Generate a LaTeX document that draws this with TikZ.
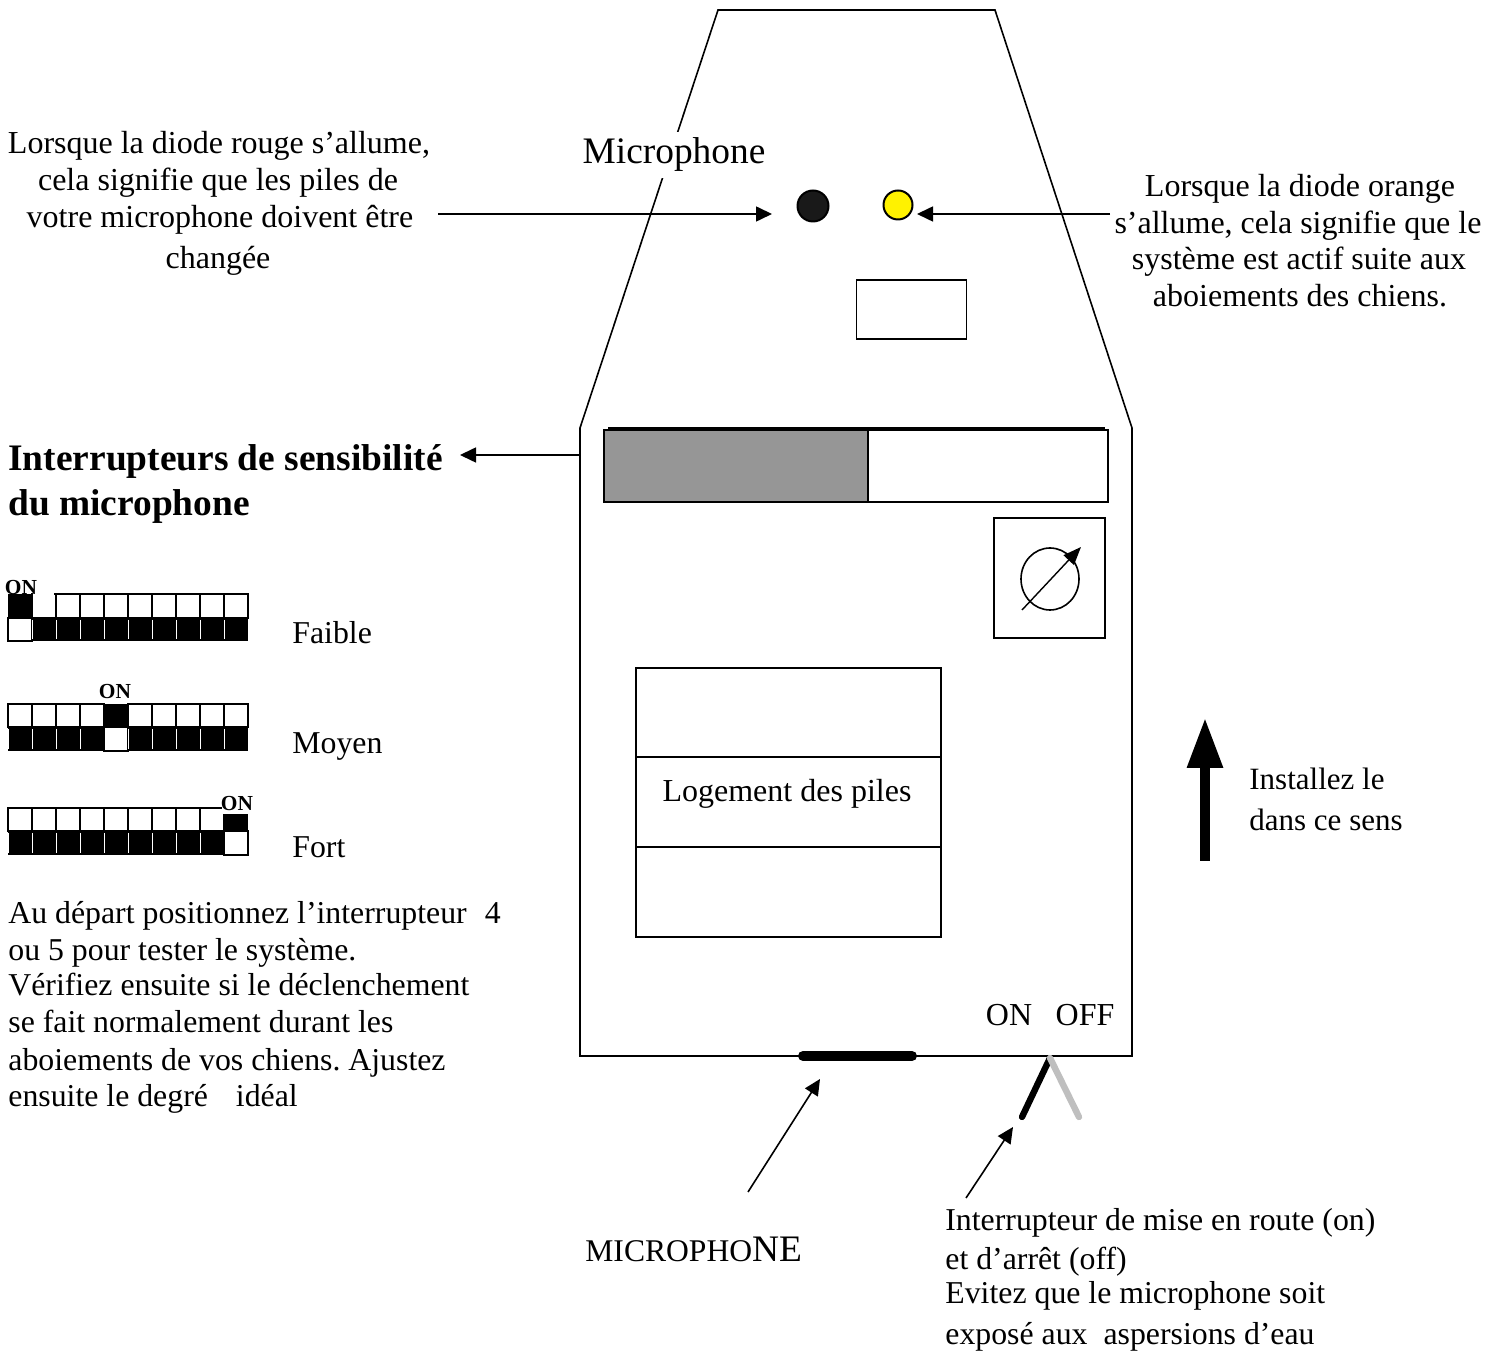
\documentclass[tikz,border=0pt]{standalone}
\usepackage{fontspec}
\setmainfont{Liberation Serif}
\usetikzlibrary{arrows.meta}
\frenchspacing
\tikzset{
  ln/.style={draw=black,line width=0.8pt},
  conn/.style={draw=black,line width=0.8pt,-{Triangle[length=8pt,width=7.5pt]}},
  tx/.style={inner sep=0pt,anchor=base west,font=\fontsize{15.9}{16}\selectfont},
  cx/.style={inner sep=0pt,anchor=base,font=\fontsize{16}{16}\selectfont},
  onl/.style={inner sep=0pt,anchor=base,font=\fontsize{10.7}{11}\bfseries\selectfont},
  hd/.style={inner sep=0pt,anchor=base west,font=\fontsize{18.7}{19}\bfseries\selectfont},
  cellw/.style={draw=black,line width=0.9pt,fill=white},
}
% #1 x origin, #2 top y, #3 mid y, #4 bottom y, #5 index of the ON switch
\newcommand{\dipbank}[5]{%
  \foreach \i in {0,...,9}{%
    \pgfmathsetmacro{\xa}{#1+\i*24}%
    \pgfmathsetmacro{\xb}{#1+\i*24+24}%
    \ifnum\i=#5\relax
      \fill[black] (\xa,#2) rectangle (\xb,#3);
      \draw[cellw] (\xa,#3) rectangle (\xb,#4);
    \else
      \draw[cellw] (\xa,#2) rectangle (\xb,#3);
      \fill[black] (\xa,#3) rectangle (\xb,#4);
      \draw[white,line width=0.3pt] (\xa,#3+2) -- (\xa,#4-2);
    \fi
  }%
}
\begin{document}
\begin{tikzpicture}[x=0.5pt,y=-0.5pt]
\useasboundingbox (0,0) rectangle (1501,1352);
\fill[white] (0,0) rectangle (1501,1352);

% body outline
\draw[ln,line join=miter] (718,10) -- (995,10) -- (1132,428) -- (1132,1056) -- (580,1056) -- (580,428) -- cycle;
\node[cx,fill=white,inner ysep=3pt,inner xsep=1pt,font=\fontsize{18.7}{19}\selectfont] (miclabel) at (674,164) {Microphone};

% LEDs
\node[circle,draw=black,fill=black!90,line width=1pt,minimum size=15.5pt,inner sep=0pt] (redled) at (813,206) {};
\node[circle,draw=black,fill=yellow,line width=1pt,minimum size=14.5pt,inner sep=0pt] (yelled) at (898,205) {};
\node[draw=black,line width=0.8pt,minimum width=55pt,minimum height=29.5pt,inner sep=0pt] (window) at (911.5,309.5) {};

% left led text
\node[cx] (l1) at (219,154) {Lorsque la diode rouge s’allume,};
\node[cx] (l2) at (218,191) {cela signifie que les piles de};
\node[cx] (l3) at (220,228) {votre microphone doivent être};
\node[cx] (l4) at (218,269) {changée};
\coordinate (la) at (438,214);
\draw[conn] (la) -- (772,214);

% right led text
\node[cx] (r1) at (1300,197) {Lorsque la diode orange};
\node[cx] (r2) at (1298,234) {s’allume, cela signifie que le};
\node[cx] (r3) at (1299,270) {système est actif suite aux};
\node[cx] (r4) at (1300,307) {aboiements des chiens.};
\coordinate (ra) at (1110,214);
\draw[conn] (ra) -- (917,214);

% sensitivity bar
\draw[ln] (608,428) -- (1105,428);
\draw[ln,fill=black!41] (604,430) rectangle (868,502);
\draw[ln,fill=white] (868,430) rectangle (1108,502);
\coordinate (ba) at (580,455);
\draw[conn] (ba) -- (460,455);
\node[hd] (h1) at (8,471) {Interrupteurs de sensibilité};
\node[hd] (h2) at (8,516) {du microphone};

% dial
\draw[ln] (994,518) rectangle (1105,638);
\draw[ln] (1050,579) ellipse [x radius=29,y radius=31];
\coordinate (da) at (1022,610);
\coordinate (db) at (1081,547);
\draw[draw=black,line width=0.7pt,-{Triangle[length=9pt,width=7pt]}] (da) -- (db);

% DIP switches
\dipbank{8}{594}{618}{641}{0}
\fill[white] (33,590) rectangle (54,616.5);
\node[onl] (on1) at (21,595) {ON};
\dipbank{8}{704}{727}{751}{4}
\node[onl] (on2) at (115,699) {ON};
\dipbank{8}{808}{831}{855}{9}
\fill[white] (222,805) rectangle (250,814.5);
\node[onl] (on3) at (237,811) {ON};
\node[tx] (f1) at (292,644) {Faible};
\node[tx] (f2) at (292,754) {Moyen};
\node[tx] (f3) at (292,858) {Fort};

% left paragraph
\node[tx] (p1) at (8,924) {Au départ positionnez l’interrupteur\hspace{9pt}4};
\node[tx] (p2) at (8,961) {ou 5 pour tester le système.};
\node[tx] (p3) at (8,996) {Vérifiez ensuite si le déclenchement};
\node[tx] (p4) at (8,1033) {se fait normalement durant les};
\node[tx] (p5) at (8,1070) {aboiements de vos chiens. Ajustez};
\node[tx] (p6) at (8,1106) {ensuite le degré\hspace{14pt}idéal};

% battery housing
\draw[ln] (636,668) rectangle (941,937);
\draw[ln] (636,757) -- (941,757);
\draw[ln] (636,847) -- (941,847);
\node[cx] (bat) at (787,802) {Logement des piles};

% big arrow
\coordinate (bga) at (1205,861);
\coordinate (bgb) at (1205,718);
\draw[draw=black,line width=4.6pt,-{Triangle[length=25pt,width=17pt]}] (bga) -- (bgb);
\node[tx,font=\fontsize{15.5}{16}\selectfont] (i1) at (1249,790) {Installez le};
\node[tx,font=\fontsize{15.5}{16}\selectfont] (i2) at (1249,831) {dans ce sens};

% on/off and bottom
\node[cx] (onl2) at (1009,1025) {ON};
\node[cx] (offl) at (1085,1025) {OFF};
\draw[black,line width=5pt,line cap=round] (803,1056) -- (912,1056);
\coordinate (pv) at (1050,1058);
\coordinate (sw1) at (1022,1117);
\coordinate (sw2) at (1079,1117);
\draw[black,line width=3.2pt,line cap=round] (pv) -- (sw1);
\draw[black!25,line width=3.2pt,line cap=round] (pv) -- (sw2);

\coordinate (ma) at (748,1192);
\draw[conn] (ma) -- (820,1079);
\coordinate (sa) at (966,1198);
\draw[conn] (sa) -- (1013,1127);

\node[tx] (mic) at (585,1261) {\fontsize{15.8}{16}\selectfont MICROPHO\fontsize{18.7}{19}\selectfont NE};
\node[tx] (n1) at (945,1230) {Interrupteur de mise en route (on)};
\node[tx] (n2) at (945,1269) {et d’arrêt (off)};
\node[tx] (n3) at (945,1303) {Evitez que le microphone soit};
\node[tx] (n4) at (945,1344) {exposé aux\hspace{8pt}aspersions d’eau};
\end{tikzpicture}
\end{document}
